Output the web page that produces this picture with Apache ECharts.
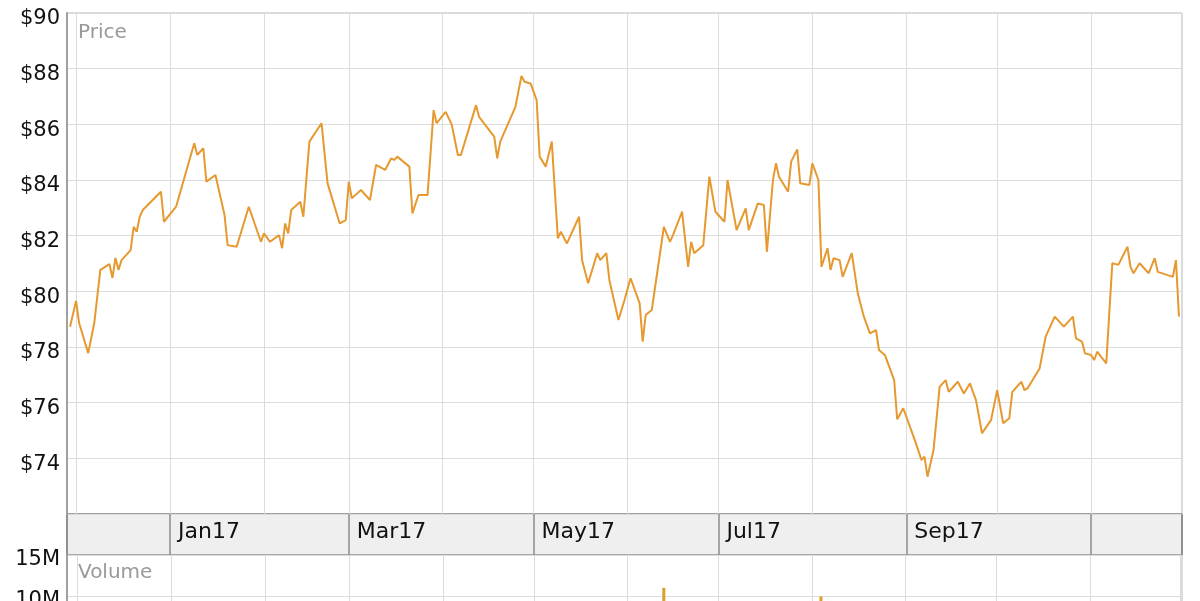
<!DOCTYPE html>
<html>
<head>
<meta charset="utf-8">
<script src="https://cdn.jsdelivr.net/npm/echarts@6/dist/echarts.min.js"></script>
<style>
html,body{margin:0;padding:0;background:#fff;}
#chart{width:1200px;height:601px;}
</style>
</head>
<body>
<div id="chart"></div>
<script>
// ---- data ----
const dates = [
'2016-11-29','2016-12-01','2016-12-02','2016-12-05','2016-12-07','2016-12-09','2016-12-12','2016-12-13','2016-12-14','2016-12-15',
'2016-12-16','2016-12-19','2016-12-20','2016-12-21','2016-12-22','2016-12-23','2016-12-29','2016-12-30','2017-01-03','2017-01-09',
'2017-01-10','2017-01-12','2017-01-13','2017-01-16','2017-01-19','2017-01-20','2017-01-23','2017-01-27','2017-01-31','2017-02-01',
'2017-02-03','2017-02-06','2017-02-07','2017-02-08','2017-02-09','2017-02-10','2017-02-13','2017-02-14','2017-02-16','2017-02-20',
'2017-02-22','2017-02-26','2017-02-28','2017-03-01','2017-03-02','2017-03-05','2017-03-08','2017-03-10','2017-03-13','2017-03-15',
'2017-03-16','2017-03-17','2017-03-21','2017-03-22','2017-03-24','2017-03-27','2017-03-29','2017-03-30','2017-04-02','2017-04-04',
'2017-04-06','2017-04-07','2017-04-12','2017-04-13','2017-04-18','2017-04-19','2017-04-20','2017-04-25','2017-04-27','2017-04-28',
'2017-04-30','2017-05-02','2017-05-03','2017-05-05','2017-05-07','2017-05-09','2017-05-10','2017-05-12','2017-05-16','2017-05-17',
'2017-05-19','2017-05-22','2017-05-23','2017-05-25','2017-05-26','2017-05-29','2017-05-31','2017-06-02','2017-06-05','2017-06-06',
'2017-06-07','2017-06-09','2017-06-13','2017-06-15','2017-06-16','2017-06-19','2017-06-21','2017-06-22','2017-06-23','2017-06-26',
'2017-06-28','2017-06-30','2017-07-03','2017-07-04','2017-07-07','2017-07-10','2017-07-11','2017-07-14','2017-07-16','2017-07-17',
'2017-07-19','2017-07-20','2017-07-21','2017-07-24','2017-07-25','2017-07-27','2017-07-28','2017-07-31','2017-08-01','2017-08-03',
'2017-08-04','2017-08-06','2017-08-07','2017-08-08','2017-08-10','2017-08-11','2017-08-14','2017-08-16','2017-08-18','2017-08-20',
'2017-08-22','2017-08-23','2017-08-25','2017-08-28','2017-08-29','2017-08-31','2017-09-04','2017-09-06','2017-09-07','2017-09-08',
'2017-09-10','2017-09-12','2017-09-14','2017-09-15','2017-09-18','2017-09-20','2017-09-22','2017-09-24','2017-09-26','2017-09-29',
'2017-10-01','2017-10-03','2017-10-05','2017-10-06','2017-10-09','2017-10-10','2017-10-11','2017-10-15','2017-10-17','2017-10-20',
'2017-10-23','2017-10-26','2017-10-27','2017-10-29','2017-10-30','2017-11-01','2017-11-02','2017-11-03','2017-11-06','2017-11-08',
'2017-11-10','2017-11-13','2017-11-14','2017-11-15','2017-11-17','2017-11-20','2017-11-22','2017-11-23','2017-11-28','2017-11-29',
'2017-11-30'
];
const prices = [
78.73,79.66,78.86,77.78,78.86,80.77,80.98,80.48,81.20,80.77,
81.12,81.48,82.32,82.14,82.68,82.92,83.58,82.50,83.04,85.32,
84.90,85.14,83.94,84.18,82.74,81.66,81.60,83.04,81.78,82.08,
81.78,82.02,81.55,82.44,82.08,82.92,83.22,82.68,85.38,86.04,
83.88,82.44,82.56,83.94,83.34,83.64,83.28,84.54,84.36,84.78,
84.72,84.84,84.48,82.80,83.46,83.46,86.51,86.04,86.45,85.98,
84.90,84.90,86.69,86.27,85.56,84.78,85.38,86.63,87.74,87.53,
87.47,86.87,84.84,84.48,85.38,81.90,82.14,81.72,82.68,81.12,
80.29,81.37,81.12,81.37,80.41,78.97,79.69,80.47,79.57,78.19,
79.15,79.33,82.32,81.78,82.02,82.86,80.88,81.78,81.37,81.66,
84.12,82.86,82.50,84.00,82.20,82.98,82.20,83.16,83.10,81.42,
84.00,84.60,84.12,83.58,84.66,85.10,83.88,83.82,84.60,84.00,
80.88,81.55,80.77,81.19,81.12,80.52,81.37,79.93,79.09,78.49,
78.61,77.89,77.70,76.81,75.40,75.80,74.60,73.94,74.06,73.34,
74.30,76.57,76.81,76.39,76.75,76.33,76.69,76.09,74.90,75.38,
76.45,75.26,75.44,76.39,76.75,76.45,76.51,77.23,78.37,79.09,
78.73,79.09,78.31,78.19,77.77,77.71,77.53,77.83,77.41,81.01,
80.95,81.60,80.88,80.65,81.01,80.65,81.19,80.70,80.52,81.12,
79.09
];
// volume bars visible in the (cropped) volume panel
const volumeDates = ['2017-06-13','2017-08-04'];
const volumes = [11.0e6, 9.95e6];
// month band tick labels
const tickDates = ['2017-01-01','2017-03-01','2017-05-01','2017-07-01','2017-09-01'];
const tickLabels = ['Jan17','Mar17','May17','Jul17','Sep17'];
const xMin = '2016-11-28';
const xMax = '2017-12-01';

const FONT = 'DejaVu Sans';
const priceData = dates.map((d, i) => [d, prices[i]]);
const volumeData = volumeDates.map((d, i) => [d, volumes[i]]);
function pad(n){ return (n < 10 ? '0' : '') + n; }

const chart = echarts.init(document.getElementById('chart'), null, {renderer: 'canvas'});
const monthX = {
  type: 'time', min: xMin, max: xMax,
  minInterval: 28 * 86400000, maxInterval: 31 * 86400000,
  axisLine: {show: false}, axisTick: {show: false}, axisLabel: {show: false},
  splitLine: {show: true, lineStyle: {color: '#dcdcdc', width: 1}}
};
const option = {
  animation: false,
  backgroundColor: '#ffffff',
  title: [
    {text: 'Price', left: 78, top: 23, padding: 0, textStyle: {fontFamily: FONT, fontSize: 20, fontWeight: 'normal', color: '#999999'}},
    {text: 'Volume', left: 78, top: 563, padding: 0, textStyle: {fontFamily: FONT, fontSize: 20, fontWeight: 'normal', color: '#999999'}}
  ],
  grid: [
    {left: 67, right: 18, top: 13, height: 501, show: true, borderColor: '#b4b4b4', borderWidth: 1, outerBoundsMode: 'none', containLabel: false},
    {left: 67, right: 18, top: 514, height: 41, show: true, backgroundColor: '#efefef', borderColor: '#a0a0a0', borderWidth: 2, outerBoundsMode: 'none', containLabel: false},
    {left: 67, right: 18, top: 555, height: 123, show: true, borderColor: '#b4b4b4', borderWidth: 1, outerBoundsMode: 'none', containLabel: false}
  ],
  xAxis: [
    Object.assign({gridIndex: 0}, monthX),
    {
      gridIndex: 1, type: 'time', min: xMin, max: xMax,
      minInterval: 59 * 86400000, maxInterval: 62 * 86400000,
      axisLine: {show: false}, axisTick: {show: false},
      splitLine: {show: true, lineStyle: {color: '#8c8c8c', width: 1.5}},
      axisLabel: {
        show: true, inside: true, margin: 23, align: 'left', verticalAlign: 'middle',
        padding: [0, 0, 0, 8], fontFamily: FONT, fontSize: 22, color: '#111111',
        showMinLabel: true, showMaxLabel: true, hideOverlap: false,
        formatter: function (val) {
          const d = new Date(val);
          const key = d.getFullYear() + '-' + pad(d.getMonth() + 1) + '-' + pad(d.getDate());
          const i = tickDates.indexOf(key);
          return i >= 0 ? tickLabels[i] : '';
        }
      }
    },
    Object.assign({gridIndex: 2}, monthX)
  ],
  yAxis: [
    {
      gridIndex: 0, type: 'value', min: 72, max: 90, interval: 2,
      axisLine: {show: true, lineStyle: {color: '#a0a0a0', width: 2}}, axisTick: {show: false},
      splitLine: {show: true, lineStyle: {color: '#dcdcdc', width: 1}},
      axisLabel: {
        margin: 7, showMinLabel: false, fontFamily: FONT, fontSize: 21, color: '#111111',
        verticalAlign: 'top', lineHeight: 12,
        formatter: function (v) { return '$' + v; }
      }
    },
    {gridIndex: 1, type: 'value', show: false, min: 0, max: 1},
    {
      gridIndex: 2, type: 'value', min: 0, max: 15e6, interval: 5e6,
      axisLine: {show: true, lineStyle: {color: '#a0a0a0', width: 2}}, axisTick: {show: false},
      splitLine: {show: true, lineStyle: {color: '#dcdcdc', width: 1}},
      axisLabel: {
        margin: 7, fontFamily: FONT, fontSize: 21, color: '#111111',
        verticalAlign: 'top', lineHeight: 10,
        formatter: function (v) { return (v / 1e6) + 'M'; }
      }
    }
  ],
  series: [
    {
      type: 'line', xAxisIndex: 0, yAxisIndex: 0, data: priceData,
      symbol: 'none', smooth: false,
      lineStyle: {color: '#e6992f', width: 2},
      itemStyle: {color: '#e6992f'}
    },
    {
      type: 'bar', xAxisIndex: 2, yAxisIndex: 2, data: volumeData,
      barWidth: 3, itemStyle: {color: '#d9a030'}
    }
  ]
};
chart.setOption(option);
</script>
</body>
</html>
